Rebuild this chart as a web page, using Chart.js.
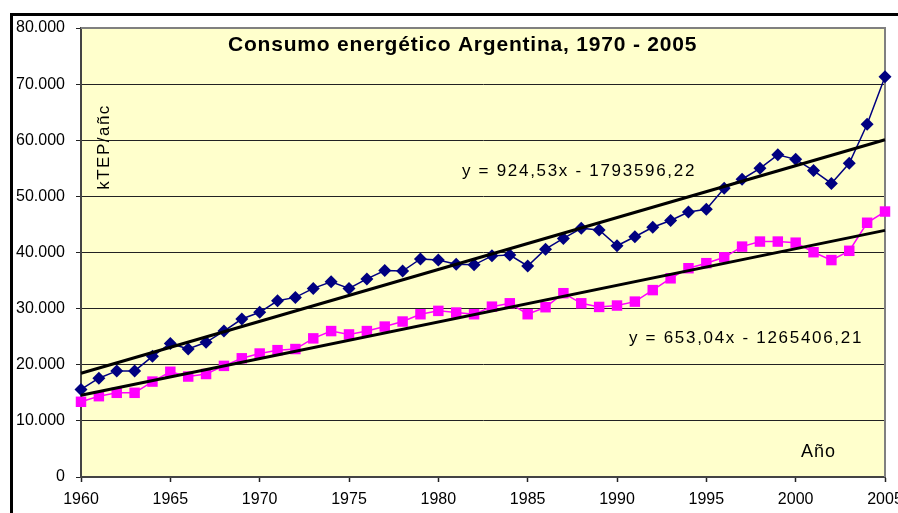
<!DOCTYPE html>
<html>
<head>
<meta charset="utf-8">
<script src="https://cdn.jsdelivr.net/npm/chart.js@4/dist/chart.umd.min.js"></script>
<style>
    html, body { margin: 0; padding: 0; background: #fff; }
    #wrap { width: 898px; height: 513px; position: relative; }
</style>
</head>
<body>
<div id="wrap"><canvas id="myChart"></canvas></div>
<script>
// Years on the x axis
const years = [1960, 1961, 1962, 1963, 1964, 1965, 1966, 1967, 1968, 1969,
    1970, 1971, 1972, 1973, 1974, 1975, 1976, 1977, 1978, 1979,
    1980, 1981, 1982, 1983, 1984, 1985, 1986, 1987, 1988, 1989,
    1990, 1991, 1992, 1993, 1994, 1995, 1996, 1997, 1998, 1999,
    2000, 2001, 2002, 2003, 2004, 2005];

// Blue series (diamonds), kTEP/año
const blueValues = [15600, 17600, 18900, 18900, 21500, 23800, 22800, 24000, 26000, 28150,
    29350, 31400, 32000, 33600, 34800, 33600, 35300, 36800, 36700, 38850,
    38650, 37900, 37800, 39400, 39550, 37600, 40600, 42500, 44300, 44000,
    41200, 42800, 44500, 45700, 47200, 47700, 51450, 53050, 55000, 57400,
    56600, 54600, 52300, 55900, 62850, 71300];

// Magenta series (squares), kTEP/año
const magentaValues = [13400, 14400, 15000, 15000, 17000, 18750, 17900, 18350, 19800, 21150,
    22000, 22600, 22800, 24700, 26000, 25400, 26000, 26800, 27700, 29000,
    29600, 29300, 29000, 30350, 30950, 29000, 30250, 32750, 30950, 30300,
    30550, 31250, 33300, 35400, 37200, 38100, 39150, 41050, 41950, 41950,
    41750, 40050, 38650, 40300, 45300, 47300];

// Trend line coefficients as printed on the chart [slope, intercept]
const blueTrend = [924.53, -1793596.22];
const magentaTrend = [653.04, -1265406.21];
const trendYears = [1960, 2005];

const titleText = 'Consumo energético Argentina, 1970 - 2005';
const blueEqText = 'y = 924,53x - 1793596,22';
const magentaEqText = 'y = 653,04x - 1265406,21';
const yAxisText = 'kTEP/añc';
const xAxisText = 'Año';

const FONT = '"Liberation Sans", Arial, sans-serif';

function toPoints(xs, ys) {
    return xs.map((x, i) => ({ x: x, y: ys[i] }));
}

function trendPoints(coef) {
    return trendYears.map(x => ({ x: x, y: coef[0] * x + coef[1] }));
}

function formatThousands(v) {
    return String(v).replace(/\B(?=(\d{3})+(?!\d))/g, '.');
}

// Plot background, grey frame, outer black frame and the free texts
const decorPlugin = {
    id: 'decor',
    beforeDraw(chart) {
        const ctx = chart.ctx;
        const a = chart.chartArea;
        ctx.save();
        ctx.fillStyle = '#FFFFCC';
        ctx.fillRect(a.left, a.top, a.right - a.left, a.bottom - a.top);
        ctx.restore();
    },
    beforeDatasetsDraw(chart) {
        const ctx = chart.ctx;
        const a = chart.chartArea;
        ctx.save();
        ctx.strokeStyle = '#808080';
        ctx.lineWidth = 2;
        ctx.beginPath();
        ctx.moveTo(a.left, a.top);
        ctx.lineTo(a.right, a.top);
        ctx.lineTo(a.right, a.bottom);
        ctx.stroke();
        ctx.restore();
    },
    afterDraw(chart) {
        const ctx = chart.ctx;
        ctx.save();
        // outer frame (thick black)
        ctx.strokeStyle = '#000';
        ctx.lineWidth = 3;
        ctx.beginPath();
        ctx.moveTo(11.5, 513);
        ctx.lineTo(11.5, 14.5);
        ctx.lineTo(898, 14.5);
        ctx.stroke();

        ctx.fillStyle = '#000';
        ctx.textBaseline = 'alphabetic';
        ctx.textAlign = 'left';

        ctx.font = 'bold 21px ' + FONT;
        ctx.letterSpacing = '0.8px';
        ctx.fillText(titleText, 228, 51);

        ctx.font = '17px ' + FONT;
        ctx.letterSpacing = '1.7px';
        ctx.fillText(blueEqText, 462, 176);
        ctx.fillText(magentaEqText, 629, 343);

        ctx.font = '18px ' + FONT;
        ctx.letterSpacing = '1px';
        ctx.fillText(xAxisText, 801, 457);

        ctx.font = '17px ' + FONT;
        ctx.letterSpacing = '1.5px';
        ctx.translate(104, 147);
        ctx.rotate(-Math.PI / 2);
        ctx.textAlign = 'center';
        ctx.textBaseline = 'middle';
        ctx.fillText(yAxisText, 0, 0);
        ctx.restore();
    }
};

let myChart;

function initializeChart() {
    const ctx = document.getElementById('myChart').getContext('2d');

    myChart = new Chart(ctx, {
        type: 'line',
        data: {
            datasets: [
                {
                    label: 'Tendencia 1',
                    data: trendPoints(blueTrend),
                    borderColor: '#000',
                    borderWidth: 3,
                    pointRadius: 0,
                    fill: false,
                    clip: false,
                },
                {
                    label: 'Tendencia 2',
                    data: trendPoints(magentaTrend),
                    borderColor: '#000',
                    borderWidth: 3,
                    pointRadius: 0,
                    fill: false,
                    clip: false,
                },
                {
                    label: 'Serie 1',
                    data: toPoints(years, blueValues),
                    borderColor: '#000080',
                    backgroundColor: '#000080',
                    borderWidth: 1.5,
                    pointStyle: 'rectRot',
                    pointRadius: 6.5,
                    pointBorderWidth: 0,
                    fill: false,
                    clip: false,
                },
                {
                    label: 'Serie 2',
                    data: toPoints(years, magentaValues),
                    borderColor: '#FF00FF',
                    backgroundColor: '#FF00FF',
                    borderWidth: 1.5,
                    pointStyle: 'rect',
                    pointRadius: 7.4,
                    pointBorderWidth: 0,
                    fill: false,
                    clip: false,
                }
            ]
        },
        options: {
            responsive: true,
            maintainAspectRatio: false,
            animation: false,
            events: [],
            layout: {
                padding: { left: 0, top: 28, right: 13, bottom: 0 }
            },
            plugins: {
                legend: { display: false },
                tooltip: { enabled: false },
                title: { display: false }
            },
            scales: {
                x: {
                    type: 'linear',
                    min: 1960,
                    max: 2005,
                    ticks: {
                        stepSize: 5,
                        color: '#000',
                        padding: 8,
                        maxRotation: 0,
                        font: { family: FONT, size: 16 },
                        callback: v => String(v)
                    },
                    grid: {
                        drawOnChartArea: false,
                        drawTicks: true,
                        tickLength: 5,
                        tickColor: '#222',
                        tickWidth: 1.5
                    },
                    border: { color: '#444', width: 2 },
                    afterFit(scale) {
                        scale.height = 36;
                        scale.paddingLeft = 0;
                        scale.paddingRight = 0;
                    }
                },
                y: {
                    min: 0,
                    max: 80000,
                    ticks: {
                        stepSize: 10000,
                        color: '#000',
                        padding: 11,
                        font: { family: FONT, size: 16 },
                        callback: v => formatThousands(v)
                    },
                    grid: {
                        color: '#222',
                        lineWidth: 1,
                        drawTicks: true,
                        tickLength: 5,
                        tickColor: '#222'
                    },
                    border: { color: '#444', width: 2 },
                    afterFit(scale) {
                        scale.width = 81;
                        scale.paddingTop = 0;
                        scale.paddingBottom = 0;
                    }
                }
            }
        },
        plugins: [decorPlugin]
    });
}

initializeChart();
</script>
</body>
</html>
